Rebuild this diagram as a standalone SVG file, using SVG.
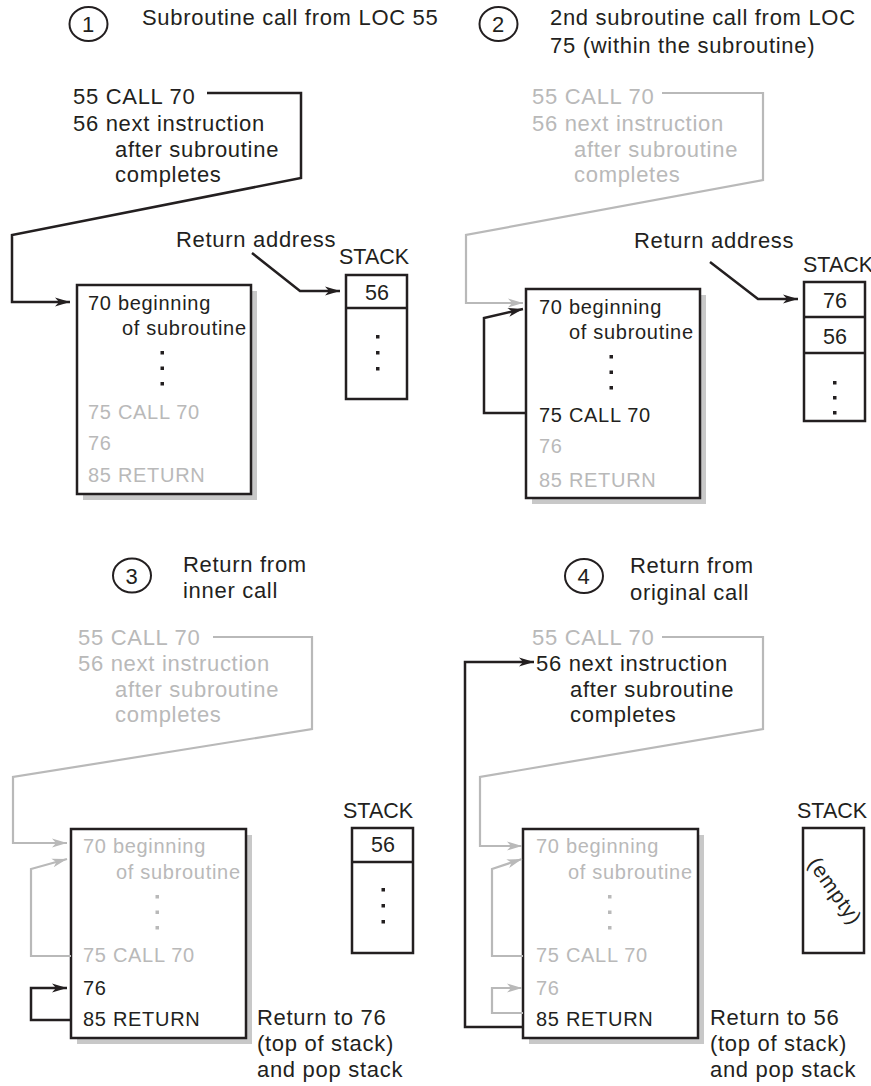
<svg xmlns="http://www.w3.org/2000/svg" width="871" height="1086" viewBox="0 0 871 1086">
<style>
text{font-family:"Liberation Sans",Arial,sans-serif;font-size:22px;letter-spacing:0.7px;fill:#231f20}
.b{font-size:20px;letter-spacing:0.7px}
.s{font-size:21.5px;letter-spacing:0}
.g{fill:#b9b9b9}
.c{text-anchor:middle}
.box{fill:#fff;stroke:#231f20;stroke-width:2.5}
.sh{fill:#c8c8c8}
.dot{fill:#231f20}
.dg{fill:#b9b9b9}
.ln{fill:none;stroke:#231f20;stroke-width:2.5;stroke-linejoin:miter}
.lg{fill:none;stroke:#b9b9b9;stroke-width:2.2;stroke-linejoin:miter}
.cir{fill:none;stroke:#231f20;stroke-width:2}
</style>
<defs>
<marker id="ab" markerUnits="userSpaceOnUse" markerWidth="16" markerHeight="10" refX="15" refY="5" orient="auto"><path d="M0,0.5 L15,5 L0,9.5 L4,5 Z" fill="#231f20"/></marker>
<marker id="ag" markerUnits="userSpaceOnUse" markerWidth="16" markerHeight="10" refX="15" refY="5" orient="auto"><path d="M0,0.5 L15,5 L0,9.5 L4,5 Z" fill="#b9b9b9"/></marker>
</defs>

<!-- Panel 1 -->
<g id="p1-label">
<ellipse class="cir" cx="88.5" cy="24" rx="19" ry="17"/>
<text class="c" x="88.5" y="32">1</text>
<text x="142" y="25">Subroutine call from LOC 55</text>
</g>
<g id="p1-main">
<text x="73" y="104">55 CALL 70</text>
<text x="73" y="131">56 next instruction</text>
<text x="115" y="157">after subroutine</text>
<text x="115" y="182">completes</text>
</g>
<g id="p1-sub">
<rect class="sh" x="83" y="291" width="174" height="209"/>
<rect class="box" x="77" y="285" width="174" height="209"/>
<text class="b" x="88" y="310">70 beginning</text>
<text class="b" x="122" y="335">of subroutine</text>
<rect class="dot" x="160.5" y="351" width="3.5" height="3.5"/>
<rect class="dot" x="160.5" y="366.5" width="3.5" height="3.5"/>
<rect class="dot" x="160.5" y="382" width="3.5" height="3.5"/>
<text class="b g" x="88" y="419">75 CALL 70</text>
<text class="b g" x="88" y="450">76</text>
<text class="b g" x="88" y="482">85 RETURN</text>
</g>
<g id="p1-stack">
<text class="s" x="339" y="264">STACK</text>
<rect class="box" x="346" y="275" width="61" height="124"/>
<line class="ln" x1="346" y1="308" x2="407" y2="308"/>
<text class="s c" x="377" y="300">56</text>
<rect class="dot" x="376" y="335" width="3.5" height="3.5"/>
<rect class="dot" x="376" y="351" width="3.5" height="3.5"/>
<rect class="dot" x="376" y="367" width="3.5" height="3.5"/>
</g>
<text id="p1-ret" x="176" y="247">Return address</text>

<!-- Panel 2 -->
<g id="p2-label">
<ellipse class="cir" cx="498.5" cy="24" rx="19" ry="17"/>
<text class="c" x="498.5" y="32">2</text>
<text x="550" y="25">2nd subroutine call from LOC</text>
<text x="550" y="53">75 (within the subroutine)</text>
</g>
<g id="p2-main">
<text class="g" x="532" y="104">55 CALL 70</text>
<text class="g" x="532" y="131">56 next instruction</text>
<text class="g" x="574" y="157">after subroutine</text>
<text class="g" x="574" y="182">completes</text>
</g>
<g id="p2-sub">
<rect class="sh" x="532" y="295" width="174" height="209"/>
<rect class="box" x="526" y="289" width="174" height="209"/>
<text class="b" x="539" y="314">70 beginning</text>
<text class="b" x="569" y="339">of subroutine</text>
<rect class="dot" x="609.5" y="355" width="3.5" height="3.5"/>
<rect class="dot" x="609.5" y="370.5" width="3.5" height="3.5"/>
<rect class="dot" x="609.5" y="386" width="3.5" height="3.5"/>
<text class="b" x="539" y="422">75 CALL 70</text>
<text class="b g" x="539" y="453">76</text>
<text class="b g" x="539" y="487">85 RETURN</text>
</g>
<g id="p2-stack">
<text class="s" x="803" y="272">STACK</text>
<rect class="box" x="804" y="282" width="61" height="139"/>
<line class="ln" x1="804" y1="317" x2="865" y2="317"/>
<line class="ln" x1="804" y1="353" x2="865" y2="353"/>
<text class="s c" x="835" y="308">76</text>
<text class="s c" x="835" y="344">56</text>
<rect class="dot" x="833" y="381" width="3.5" height="3.5"/>
<rect class="dot" x="833" y="396" width="3.5" height="3.5"/>
<rect class="dot" x="833" y="411" width="3.5" height="3.5"/>
</g>
<text id="p2-ret" x="634" y="248">Return address</text>

<!-- Panel 3 -->
<g id="p3-label">
<ellipse class="cir" cx="132" cy="575.5" rx="19" ry="17"/>
<text class="c" x="132" y="583.5">3</text>
<text x="183" y="572">Return from</text>
<text x="183" y="598">inner call</text>
</g>
<g id="p3-main">
<text class="g" x="78" y="645">55 CALL 70</text>
<text class="g" x="78" y="671">56 next instruction</text>
<text class="g" x="115" y="697">after subroutine</text>
<text class="g" x="115" y="722">completes</text>
</g>
<g id="p3-sub">
<rect class="sh" x="77" y="835" width="175" height="209"/>
<rect class="box" x="71" y="829" width="175" height="209"/>
<text class="b g" x="83" y="853">70 beginning</text>
<text class="b g" x="116" y="879">of subroutine</text>
<rect class="dg" x="155.5" y="895" width="3.5" height="3.5"/>
<rect class="dg" x="155.5" y="910.5" width="3.5" height="3.5"/>
<rect class="dg" x="155.5" y="926" width="3.5" height="3.5"/>
<text class="b g" x="83" y="962">75 CALL 70</text>
<text class="b" x="83" y="995">76</text>
<text class="b" x="83" y="1026">85 RETURN</text>
</g>
<g id="p3-stack">
<text class="s" x="343" y="818">STACK</text>
<rect class="box" x="352" y="828" width="61" height="125"/>
<line class="ln" x1="352" y1="862" x2="413" y2="862"/>
<text class="s c" x="383" y="852">56</text>
<rect class="dot" x="381.5" y="888" width="3.5" height="3.5"/>
<rect class="dot" x="381.5" y="904" width="3.5" height="3.5"/>
<rect class="dot" x="381.5" y="920" width="3.5" height="3.5"/>
</g>
<g id="p3-note">
<text x="257" y="1025">Return to 76</text>
<text x="257" y="1051">(top of stack)</text>
<text x="257" y="1077">and pop stack</text>
</g>

<!-- Panel 4 -->
<g id="p4-label">
<ellipse class="cir" cx="584" cy="576" rx="19" ry="17"/>
<text class="c" x="584" y="584">4</text>
<text x="630" y="573">Return from</text>
<text x="630" y="600">original call</text>
</g>
<g id="p4-main">
<text class="g" x="532" y="645">55 CALL 70</text>
<text x="536" y="671">56 next instruction</text>
<text x="570" y="697">after subroutine</text>
<text x="570" y="722">completes</text>
</g>
<g id="p4-sub">
<rect class="sh" x="529" y="835" width="175" height="209"/>
<rect class="box" x="523" y="829" width="175" height="209"/>
<text class="b g" x="536" y="853">70 beginning</text>
<text class="b g" x="568" y="879">of subroutine</text>
<rect class="dg" x="608" y="895" width="3.5" height="3.5"/>
<rect class="dg" x="608" y="910.5" width="3.5" height="3.5"/>
<rect class="dg" x="608" y="926" width="3.5" height="3.5"/>
<text class="b g" x="536" y="962">75 CALL 70</text>
<text class="b g" x="536" y="995">76</text>
<text class="b" x="536" y="1026">85 RETURN</text>
</g>
<g id="p4-stack">
<text class="s" x="797" y="818">STACK</text>
<rect class="box" x="803" y="828" width="61" height="125"/>
<text class="c" style="font-size:21px;letter-spacing:0.8px" x="0" y="0" transform="translate(835 891) rotate(55) translate(0 7)">(empty)</text>
</g>
<g id="p4-note">
<text x="710" y="1025">Return to 56</text>
<text x="710" y="1051">(top of stack)</text>
<text x="710" y="1077">and pop stack</text>
</g>

<g id="connectors">
<path class="ln" d="M207 93 H301 V178 L12 235 V302 H70" marker-end="url(#ab)"/>
<path class="ln" d="M252 253 L300 291 H340" marker-end="url(#ab)"/>

<path class="lg" d="M662 93 H763 V180 L466 235 V303 H523" marker-end="url(#ag)"/>
<path class="ln" d="M526 413 H484 V318 L523 309" marker-end="url(#ab)"/>
<path class="ln" d="M710 262 L758 299 H798" marker-end="url(#ab)"/>

<path class="lg" d="M213 637 H312 V729 L13 777 V843 H67" marker-end="url(#ag)"/>
<path class="lg" d="M71 956 H31 V869 L67 859" marker-end="url(#ag)"/>
<path class="ln" d="M71 1020 H31 V988 H67" marker-end="url(#ab)"/>

<path class="lg" d="M662 637 H763 V729 L480 777 V846 H522" marker-end="url(#ag)"/>
<path class="lg" d="M523 956 H492 V869 L522 859" marker-end="url(#ag)"/>
<path class="lg" d="M523 1013 H492 V988 H522" marker-end="url(#ag)"/>
<path class="ln" d="M523 1027 H465 V662 H534" marker-end="url(#ab)"/>
</g>
</svg>
